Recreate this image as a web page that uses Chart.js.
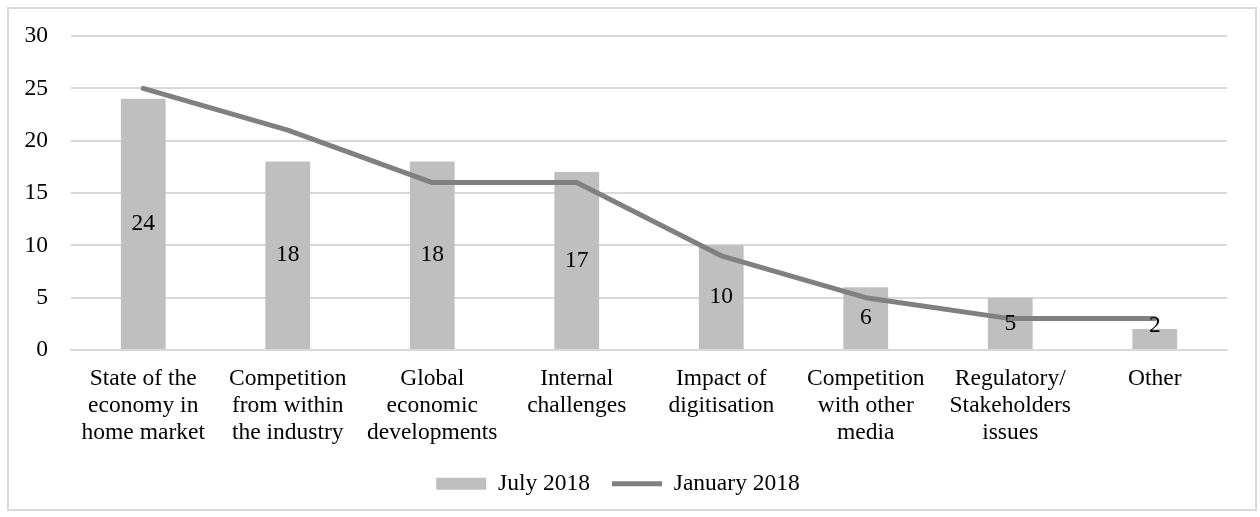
<!DOCTYPE html>
<html>
<head>
<meta charset="utf-8">
<script src="https://cdn.jsdelivr.net/npm/chart.js@4.4.0/dist/chart.umd.min.js"></script>
<style>
  html, body { margin: 0; padding: 0; background: #fff; }
  #frame {
    position: absolute; left: 7px; top: 7px; width: 1246px; height: 500px;
    border: 2px solid #d9d9d9; box-sizing: content-box;
  }
  #wrap { position: absolute; left: 0; top: 0; width: 1246px; height: 500px; }
</style>
</head>
<body>
<div id="frame"><div id="wrap"><canvas id="chart"></canvas></div></div>
<script>
// Chart data
const categories = [
    ["State of the", "economy in", "home market"],
    ["Competition", "from within", "the industry"],
    ["Global", "economic", "developments"],
    ["Internal", "challenges"],
    ["Impact of", "digitisation"],
    ["Competition", "with other", "media"],
    ["Regulatory/", "Stakeholders", "issues"],
    ["Other"]
];
const july2018 = [24, 18, 18, 17, 10, 6, 5, 2];
const january2018 = [25, 21, 16, 16, 9, 5, 3, 3];
const yTicks = [0, 5, 10, 15, 20, 25, 30];

const fontFamily = '"Liberation Serif", "Times New Roman", serif';
const fontSize = 23.5;

// Value labels in the middle of each bar
const barLabels = {
    id: 'barLabels',
    afterDatasetsDraw(chart) {
        const meta = chart.getDatasetMeta(0);
        const ctx = chart.ctx;
        ctx.save();
        ctx.font = fontSize + 'px ' + fontFamily;
        ctx.fillStyle = '#000';
        ctx.textAlign = 'center';
        ctx.textBaseline = 'middle';
        meta.data.forEach((bar, i) => {
            const y = Math.min((bar.y + bar.base) / 2, bar.base - 23);
            ctx.fillText(String(july2018[i]), bar.x, y);
        });
        ctx.restore();
    }
};

const ctx = document.getElementById('chart').getContext('2d');
const chart = new Chart(ctx, {
    type: 'bar',
    data: {
        labels: categories,
        datasets: [{
            type: 'bar',
            label: 'July 2018',
            data: july2018,
            backgroundColor: '#bfbfbf',
            borderWidth: 0,
            categoryPercentage: 1,
            barPercentage: 0.31,
            pointStyle: 'rect',
            order: 1
        }, {
            type: 'line',
            label: 'January 2018',
            data: january2018,
            borderColor: '#808080',
            backgroundColor: '#808080',
            borderWidth: 5,
            borderCapStyle: 'round',
            borderJoinStyle: 'round',
            pointRadius: 0,
            pointHoverRadius: 0,
            pointStyle: 'line',
            tension: 0,
            fill: false,
            order: 0
        }]
    },
    options: {
        responsive: true,
        maintainAspectRatio: false,
        animation: false,
        layout: { padding: { top: 0, right: 28, left: 0, bottom: 3.5 } },
        plugins: {
            tooltip: { enabled: false },
            legend: {
                position: 'bottom',
                labels: {
                    usePointStyle: true,
                    pointStyleWidth: 50,
                    boxHeight: 12,
                    padding: 22,
                    color: '#000',
                    font: { family: fontFamily, size: fontSize },
                    sort: (a, b) => a.datasetIndex - b.datasetIndex
                }
            }
        },
        scales: {
            x: {
                grid: { display: false, drawTicks: false },
                border: { display: true, color: '#d9d9d9', width: 2 },
                ticks: {
                    color: '#000',
                    padding: 15,
                    maxRotation: 0,
                    autoSkip: false,
                    font: { family: fontFamily, size: fontSize, lineHeight: '27px' }
                },
                afterFit(scale) { scale.height = 100; }
            },
            y: {
                min: 0,
                max: 30,
                afterBuildTicks(scale) { scale.ticks = yTicks.map(v => ({ value: v })); },
                grid: { color: '#d9d9d9', lineWidth: 2, drawTicks: false },
                border: { display: false },
                ticks: {
                    color: '#000',
                    padding: 23,
                    font: { family: fontFamily, size: fontSize }
                },
                afterFit(scale) {
                    scale.width = 62;
                    scale.paddingTop = 27;
                }
            }
        }
    },
    plugins: [barLabels]
});
</script>
</body>
</html>
